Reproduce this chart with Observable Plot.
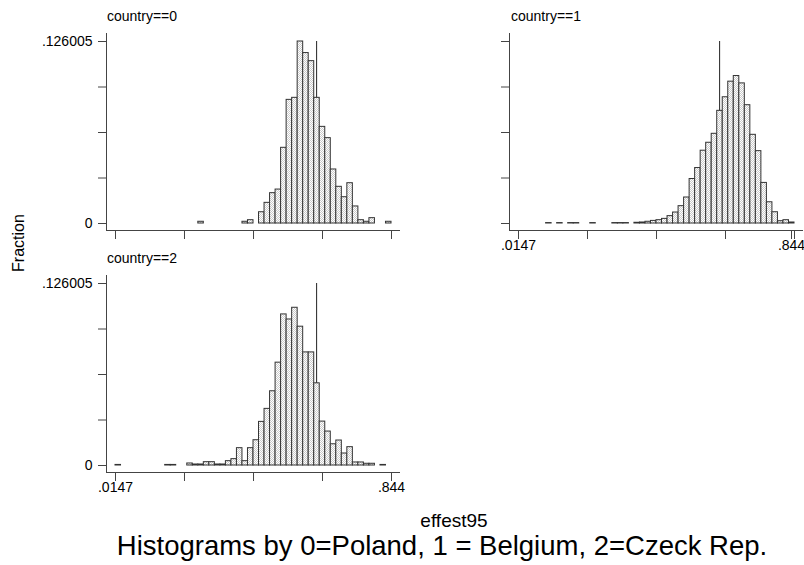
<!DOCTYPE html>
<html><head><meta charset="utf-8">
<script src="https://cdn.jsdelivr.net/npm/d3@7"></script>
<script src="https://cdn.jsdelivr.net/npm/@observablehq/plot@0.6"></script>
<style>
html,body{margin:0;padding:0;background:#fff;overflow:hidden}
#chart{position:relative;width:804px;height:565px;font-family:"Liberation Sans",Arial,Helvetica,sans-serif;color:#000;overflow:hidden}
#chart .panel{position:absolute}
#chart .lbl{position:absolute;white-space:nowrap;line-height:1}
</style></head><body>
<svg width="0" height="0" style="position:absolute"><defs><pattern id="stip" width="2" height="2" patternUnits="userSpaceOnUse"><rect width="2" height="2" fill="#fff"/><rect width="1" height="1" fill="#cbcbcb"/><rect x="1" y="1" width="1" height="1" fill="#cbcbcb"/></pattern></defs></svg>
<div id="chart"></div>
<script>
// ---- data ----
const panelTitles = ["country==0", "country==1", "country==2"];
const binLow = 0.0147, binHigh = 0.844, nBins = 50;
const poland = [0,0,0,0,0, 0,0,0,0,0, 0,0,0,0,0, 0.0012,0,0,0,0, 0,0,0,0.0012,0.0023,
  0,0.0078,0.0143,0.0210,0.0235, 0.0524,0.0856,0.0870,0.126005,0.1180,
  0.1124,0.0870,0.0669,0.0591,0.0374, 0.0254,0.0182,0.0279,0.0118,0.0023, 0.0012,0.0037,0,0,0.0012];
const belgium = [0,0,0,0,0, 0.0003,0,0.0003,0,0.0003, 0.0003,0,0,0.0003,0, 0,0,0.0003,0.0003,0.0003,
  0,0.0005,0.0007,0.0012,0.0018, 0.0023,0.0032,0.0051,0.0076,0.0120,
  0.0180,0.0308,0.0384,0.0504,0.0559, 0.0621,0.0780,0.0874,0.0982,0.1021,
  0.0970,0.0819,0.0614,0.0501,0.0281, 0.0147,0.0078,0.0016,0.0023,0.0007];
const czech = [0.0004,0,0,0,0, 0,0,0,0,0.0004, 0.0004,0,0,0.0014,0.0007, 0.0007,0.0023,0.0023,0.0007,0.0007,
  0.0030,0.0044,0.0120,0.0030,0.0120, 0.0175,0.0302,0.0392,0.0514,0.0712,
  0.1046,0.1011,0.1092,0.0961,0.0783, 0.0783,0.0569,0.0304,0.0235,0.0147,
  0.0173,0.0083,0.0127,0.0021,0.0021, 0.0012,0.0012,0,0.0004,0];
const refLine = 0.619;
const yMax = 0.126005;
const yTicks = [0, 0.0315, 0.0630, 0.0945, 0.126005];
const yTickLabels = ["0", "", "", "", ".126005"];
const xTicks = [0.0147, 0.2220, 0.4294, 0.6367, 0.844];
const xTickLabels = [".0147", "", "", "", ".844"];
const yTitle = "Fraction";
const xTitle = "effest95";
const caption = "Histograms by 0=Poland, 1 = Belgium, 2=Czeck Rep.";

// ---- build ----
const binW = (binHigh - binLow) / nBins;
function rows(vals) {
  return vals.map((v, i) => ({x1: binLow + i * binW, x2: binLow + (i + 1) * binW, frac: v})).filter(d => d.frac > 0);
}
const yLab = new Map(yTicks.map((t, i) => [t, yTickLabels[i]]));
const xLab = new Map(xTicks.map((t, i) => [t, xTickLabels[i]]));
const font = '"Liberation Sans", Arial, Helvetica, sans-serif';
const lastTick = xTicks[xTicks.length - 1];

function panel(vals, showX, showY, lastShift) {
  const marks = [
    Plot.ruleX([refLine], {y1: 0, y2: yMax, stroke: "#222", strokeWidth: 1}),
    Plot.rectY(rows(vals), {x1: "x1", x2: "x2", y: "frac", fill: "url(#stip)", stroke: "#333", strokeWidth: 1}),
    Plot.frame({anchor: "left", stroke: "#444"}),
    Plot.frame({anchor: "bottom", stroke: "#444"}),
    Plot.axisY({ticks: yTicks, tickSize: 8, tickPadding: 6, stroke: "#444", fill: "#000",
      tickFormat: d => showY ? yLab.get(d) : "", label: null}),
    Plot.axisX({ticks: xTicks, tickSize: 9, tickPadding: 1, stroke: "#444", fill: "#000",
      tickFormat: d => (showX && d !== lastTick) ? xLab.get(d) : "", label: null})
  ];
  if (showX) marks.push(Plot.axisX({ticks: [lastTick], tickSize: 9, tickPadding: 1, stroke: "#444", fill: "#000",
      dx: lastShift, tickFormat: d => xLab.get(d), label: null}));
  return Plot.plot({
    width: 401, height: 250,
    marginLeft: 106, marginRight: 2, marginTop: 33, marginBottom: 20,
    x: {domain: [binLow, binHigh], insetLeft: 9, insetRight: 8, label: null},
    y: {domain: [0, yMax], insetTop: 8, insetBottom: 7, label: null},
    style: {fontFamily: font, fontSize: "14px", color: "#000", background: "transparent", overflow: "visible"},
    marks
  });
}

const chart = document.getElementById("chart");
function place(el, left, top) {
  const d = document.createElement("div");
  d.className = "panel"; d.style.left = left + "px"; d.style.top = top + "px";
  d.appendChild(el); chart.appendChild(d);
}
place(panel(poland, false, true, 0), 0, 0);
place(panel(belgium, true, false, -3), 403, 0);
place(panel(czech, true, true, 0), 0, 242);

function label(text, fs, left, baseline, opts = {}) {
  const d = document.createElement("div");
  d.className = "lbl"; d.textContent = text;
  d.style.fontSize = fs + "px";
  d.style.top = (baseline - 0.8465 * fs) + "px";
  d.style.left = left + "px";
  if (opts.center) d.style.transform = "translateX(-50%)";
  chart.appendChild(d);
  return d;
}
label(panelTitles[0], 14, 107, 21);
label(panelTitles[1], 14, 511, 21);
label(panelTitles[2], 14, 107, 263);
label(xTitle, 19, 454, 527, {center: true});
label(caption, 27.5, 442, 555, {center: true});
const yl = document.createElement("div");
yl.className = "lbl"; yl.textContent = yTitle; yl.style.fontSize = "16px";
yl.style.left = "19px"; yl.style.top = "243px";
yl.style.transform = "translate(-50%,-50%) rotate(-90deg)";
chart.appendChild(yl);
</script>
</body></html>
